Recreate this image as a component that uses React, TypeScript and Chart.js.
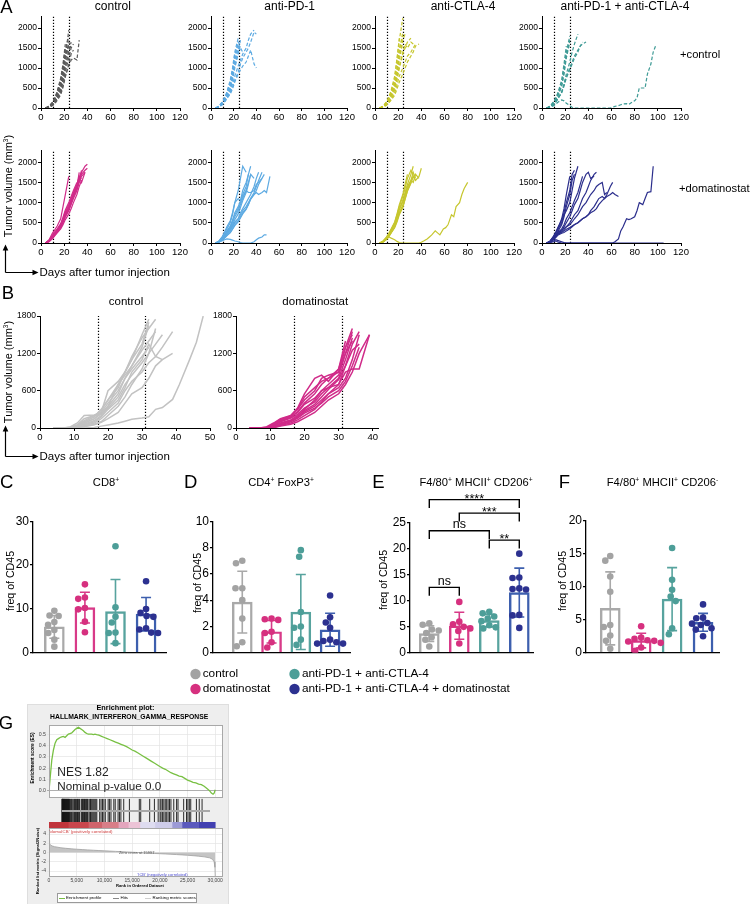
import React, { useEffect, useRef } from 'react';
import { Chart, registerables } from 'chart.js';

Chart.register(...registerables);

const FONT = '"Liberation Sans", Arial, Helvetica, sans-serif';
Chart.defaults.font.family = FONT;
Chart.defaults.color = '#000';

// ================= DATA =================
// ---- Panel A: tumour volume (mm3) per mouse on measurement days ----
const A_DAYS = [4, 7, 10, 12, 14, 17, 19, 21, 24, 26, 28, 31, 33, 35, 38, 40, 42, 45, 47, 49, 52, 54, 56, 59, 61, 63, 66, 68, 70, 73, 75, 77, 80, 82, 84, 87, 89, 91, 94, 96, 98, 101, 103, 105];
const A_TREAT = [10.5, 24.5];

const A_CTRL = [
  [0, 40, 120, 220, 330, 600, 900, 1300, 1950],
  [0, 30, 100, 180, 300, 520, 800, 1150, 1600],
  [0, 50, 140, 250, 400, 700, 1050, 1500],
  [0, 20, 90, 160, 260, 450, 700, 1000, 1400, 1650],
  [0, 35, 110, 200, 350, 620, 950, 1350, 1550],
  [0, 25, 80, 150, 250, 420, 650, 900, 1250, 1500, 1600],
  [0, 45, 130, 240, 380, 650, 1000, 1450, 1800],
  [0, 30, 95, 170, 280, 480, 720, 1050, 1450, 1580],
  [0, 20, 70, 130, 220, 380, 560, 800, 1050, 1200, 1250, 1200, 1700],
  [0, 40, 150, 260, 420, 750, 1100, 1600],
  [0, 30, 120, 210, 340, 580, 880, 1250, 1650, 1500],
  [0, 15, 60, 110, 190, 330, 520, 780, 1100, 1350, 1450],
];
const A_PD1 = [
  [0, 50, 160, 260, 400, 700, 1000, 1400, 1750],
  [0, 30, 120, 220, 350, 600, 900, 1300, 1650, 1550],
  [0, 40, 130, 200, 300, 500, 750, 1050, 1400, 1700],
  [0, 20, 90, 160, 250, 400, 600, 800, 1050, 1200, 1350, 1500, 1700, 1850, 1950],
  [0, 30, 100, 180, 260, 380, 520, 700, 900, 1100, 1250, 1400, 1500, 1650, 1900, 1850],
  [0, 20, 80, 150, 230, 350, 480, 650, 850, 950, 1050, 1150, 1300, 1450, 1100, 1000],
  [0, 40, 150, 250, 380, 650, 950, 1350, 1600],
  [0, 30, 110, 190, 300, 500, 780, 1100, 1500, 1450],
  [0, 25, 100, 170, 270, 450, 700, 1000, 1350, 1600],
  [0, 35, 130, 230, 350, 550, 850, 1200, 1550, 1500, 1400],
];
const A_CTLA4 = [
  [0, 40, 150, 250, 400, 750, 1200, 1700, 2250],
  [0, 30, 120, 200, 350, 600, 950, 1400, 1900],
  [0, 50, 160, 280, 450, 800, 1250, 1750],
  [0, 20, 90, 160, 260, 450, 700, 1000, 1350, 1500, 1650, 1750],
  [0, 30, 100, 180, 300, 500, 750, 1050, 1400, 1600, 1500, 1650, 1600],
  [0, 25, 80, 140, 220, 380, 580, 800, 1000, 1150, 1300, 1400, 1500, 1600],
  [0, 20, 70, 130, 200, 320, 480, 650, 850, 1000, 1150, 1300, 1400, 1550, 1600],
  [0, 40, 130, 230, 380, 650, 1000, 1500, 1800],
  [0, 30, 110, 190, 300, 520, 820, 1200, 1650],
  [0, 35, 120, 210, 330, 560, 870, 1300, 1700, 1850],
];
const A_COMBO = [
  [0, 40, 140, 240, 380, 650, 1000, 1400, 1800],
  [0, 30, 110, 200, 320, 550, 850, 1250, 1650],
  [0, 50, 160, 260, 400, 700, 1100, 1550],
  [0, 20, 80, 150, 240, 400, 600, 850, 1150, 1400, 1600, 1850],
  [0, 25, 90, 160, 250, 380, 550, 750, 950, 1100, 1250, 1400, 1550, 1650],
  [0, 30, 100, 170, 260, 400, 580, 780, 1000, 1150, 1300, 1450, 1550, 1600, 1650],
  [0, 20, 60, 100, 150, 200, 180, 120, 60, 20,
    0, 0, 0, 0, 0, 0, 0, 0, 0, 0, 0, 0, 0, 0,
    20, 40, 60, 80, 100, 110, 90, 130, 180, 250, 500, 500, 500, 850, 1100, 1400, 1550],
  [0, 35, 120, 210, 330, 560, 900, 1300, 1700],
];
const A_DOMA = [
  [0, 80, 250, 330, 420, 600, 900, 1200, 1650],
  [0, 50, 150, 230, 300, 420, 550, 700, 850, 1000, 1150, 1350, 1550, 1750, 1900, 1950],
  [0, 40, 130, 200, 270, 380, 500, 650, 800, 950, 1100, 1300, 1500, 1650, 1750],
  [0, 60, 170, 250, 330, 450, 600, 780, 950, 1100, 1250, 1450, 1600, 1800],
  [0, 30, 110, 180, 250, 350, 450, 580, 720, 850, 1000, 1200, 1400, 1550],
  [0, 50, 160, 240, 310, 430, 560, 720, 880, 1050, 1200, 1400, 1750],
  [0, 40, 140, 210, 280, 390, 520, 660, 820, 980, 1150, 1350, 1550, 1700, 1800, 1850],
  [0, 70, 200, 280, 350, 480, 640, 820, 1000, 1150, 1300, 1500],
  [0, 45, 150, 220, 290, 400, 540, 690, 840, 1000, 1180, 1380, 1580, 1600],
  [0, 55, 165, 240, 300, 420, 580, 750, 900, 1050, 1220, 1450, 1650, 1500, 1750],
];
const A_PD1_DOMA = [
  [0, 40, 150, 250, 350, 500, 700, 1000, 1100, 1050, 1200, 1400, 1700, 1900],
  [0, 30, 100, 180, 260, 400, 550, 750, 900, 1050, 1300, 1500, 1700],
  [0, 20, 80, 150, 220, 300, 400, 500, 600, 750, 850, 1000, 1100, 1200, 1400, 1600, 1750],
  [0, 30, 120, 200, 300, 420, 560, 700, 850, 1000, 1150, 1300, 1250, 1250, 1300, 1450, 1500, 1600, 1700],
  [0, 20, 70, 120, 180, 260, 350, 450, 550, 650, 750, 850, 950, 1100, 1250, 1400, 1550, 1750],
  [0, 25, 90, 160, 240, 330, 450, 580, 720, 880, 1050, 1250, 1450, 1700],
  [0, 40, 130, 200, 270, 350, 430, 520, 600, 700, 800, 900, 1000, 1100, 1200, 1250, 1200, 1250, 1300, 1250, 1650],
  [0, 30, 60, 80, 100, 90, 70, 50, 30, 10, 0, 0, 0, 0, 30, 80, 120, 150, 200, 200],
  [0, 35, 110, 190, 280, 380, 500, 650, 800, 950, 1100, 1300, 1500, 1700, 1600],
  [0, 50, 160, 270, 400, 550, 750, 1000, 1300, 1600, 1900, 1750],
  [0, 25, 80, 130, 190, 260, 340, 430, 520, 620, 720, 830, 950, 1080, 1200, 1300, 1450, 1600],
];
const A_CTLA4_DOMA = [
  [0, 40, 130, 220, 320, 480, 650, 850, 1050, 1250, 1450, 1700, 1900],
  [0, 30, 110, 180, 270, 400, 560, 750, 950, 1150, 1350, 1550, 1750, 1600],
  [0, 50, 150, 240, 350, 520, 720, 950, 1200, 1450, 1700],
  [0, 20, 90, 160, 250, 380, 520, 700, 880, 1080, 1280, 1480, 1650, 1700],
  [0, 35, 120, 200, 300, 450, 620, 820, 1020, 1200, 1400, 1550, 1500, 1700, 1600],
  [0, 25, 100, 170, 260, 400, 560, 740, 900, 1100, 1300, 1500, 1650, 1550, 1650, 1850],
  [0, 45, 140, 230, 330, 500, 700, 900, 1150, 1350, 1600, 1800, 1700],
  [0, 30, 90, 150, 120, 80, 40, 10,
    0, 0, 0, 0, 0, 0, 0,
    20, 50, 100, 150, 200, 300, 250, 200, 350, 380, 450, 700, 650, 900, 1000, 1200, 1350, 1500],
];
const A_COMBO_DOMA = [
  [0, 40, 150, 250, 380, 600, 850, 1200, 1650],
  [0, 30, 120, 200, 300, 450, 650, 900, 1200, 1550, 1700],
  [0, 50, 160, 260, 350, 500, 700, 800, 1000, 1300, 1600, 1900],
  [0, 20, 90, 160, 250, 350, 450, 600, 750, 900, 1050, 1250, 1450, 1650],
  [0, 30, 110, 180, 250, 300, 400, 500, 650, 800, 950, 1100, 1300, 1500, 1700, 1750, 1600, 1650],
  [0, 25, 100, 170, 230, 280, 330, 400, 500, 600, 700, 800, 950, 1100, 1250, 1400, 1550, 1700, 1750],
  [0, 35, 130, 210, 280, 320, 360, 400, 450, 520, 600, 700, 800, 900, 1000, 1100, 1200, 1300, 1400, 1450, 1500, 1200, 1250],
  [0, 20, 80, 140, 200, 240, 260, 300, 350, 400, 450, 500, 550, 600, 650, 700, 800, 900, 1000, 1100, 1150, 1100, 1200, 1400, 1500],
  [0, 30, 100, 160, 220, 260, 300, 340, 380, 420, 460, 500, 550, 600, 650, 700, 750, 800, 850, 950, 1050, 1100, 1150, 1200, 1250, 1200, 1150],
  [0, 20, 50, 80, 60, 30, 10,
    0, 0, 0, 0, 0, 0, 0, 0, 0, 0, 0, 0, 0, 0, 0, 0, 0, 0,
    30, 100, 300, 400, 600, 580, 600, 650, 800, 1000, 950, 1100, 1250, 1270, 1900],
  [0, 10, 30, 50, 20,
    0, 0, 0, 0, 0, 0, 0, 0, 0, 0, 0, 0, 0, 0, 0, 0, 0, 0, 0, 0,
    0, 0, 0, 0, 0, 0, 0, 0, 0, 0, 0, 0, 0, 0, 0, 0, 0, 0, 0],
  [0, 45, 170, 280, 400, 560, 750, 1000, 1300, 1700, 1800],
];

// ---- Panel B ----
const B_DAYS = [4, 7, 9, 11, 13, 16, 18, 20, 23, 25, 27, 30, 32, 34, 36, 39, 41, 44, 46, 48];
const B_TREAT = [17, 31];
const B_CTRL = [
  [0, 0, 20, 80, 200, 210, 250, 600, 750, 900, 1100, 1350, 1700],
  [0, 0, 10, 40, 100, 180, 300, 450, 700, 900, 1100, 1500, 1750],
  [0, 0, 0, 30, 80, 150, 250, 400, 600, 800, 1000, 1250, 1400, 1550],
  [0, 0, 10, 50, 150, 200, 220, 350, 550, 800, 950, 1150, 1300],
  [0, 0, 0, 20, 60, 120, 200, 320, 500, 700, 850, 1050, 1200, 1350, 1500],
  [0, 0, 0, 10, 40, 80, 150, 250, 400, 600, 750, 900, 1050, 1150, 1300, 1550],
  [0, 0, 5, 30, 80, 150, 230, 350, 700, 850, 1000, 1300, 1650],
  [0, 0, 0, 20, 50, 100, 180, 300, 450, 650, 900, 1100, 1350, 1150, 1100],
  [0, 0, 0, 10, 30, 60, 100, 200, 350, 500, 700, 950, 1200, 1600],
  [0, 0, 0, 5, 20, 50, 90, 150, 250, 400, 550, 650, 800, 1000, 1100, 1200],
  [0, 0, 0, 0, 0, 10, 30, 50, 80, 110, 140, 160, 180, 300, 330, 460, 700, 1100, 1380, 1800],
  [0, 0, 10, 50, 120, 200, 280, 450, 650, 900, 1150, 1450, 1600, 1750],
];
const B_DOMA = [
  [0, 0, 10, 60, 120, 180, 250, 380, 480, 600, 700, 850, 1200, 1550],
  [0, 0, 20, 80, 150, 200, 300, 450, 600, 800, 850, 900, 1300, 1500],
  [0, 0, 5, 40, 100, 160, 220, 320, 420, 550, 650, 800, 1100, 1450],
  [0, 0, 0, 30, 80, 130, 200, 280, 380, 500, 620, 780, 1000, 1350, 1550],
  [0, 0, 10, 50, 110, 170, 260, 400, 550, 700, 800, 950, 1300, 1600],
  [0, 0, 0, 20, 60, 110, 170, 260, 350, 450, 550, 700, 900, 950, 950, 1500],
  [0, 0, 10, 70, 140, 190, 300, 500, 650, 750, 800, 900, 1200, 1400],
  [0, 0, 0, 10, 40, 80, 130, 200, 300, 420, 550, 650, 800, 1100, 1500],
  [0, 0, 5, 30, 70, 120, 180, 300, 450, 600, 650, 700, 1000, 1250, 1350],
  [0, 0, 0, 15, 50, 100, 160, 240, 320, 400, 500, 600, 750, 1000, 1300],
  [0, 0, 10, 60, 130, 200, 320, 550, 800, 850, 750, 950, 1400],
  [0, 0, 0, 5, 30, 60, 100, 160, 250, 350, 450, 550, 700, 900, 1200, 1500],
];

// ---- Panels C-F: freq of CD45 (control, domatinostat, aPD1+aCTLA4, aPD1+aCTLA4+doma) ----
const C_CTRL = [9.6, 8.5, 8.4, 7.0, 6.4, 5.2, 4.5, 3.0, 1.4];
const C_DOMA = [15.6, 12.6, 12.3, 10.2, 9.9, 7.1, 4.7];
const C_COMBO = [24.3, 10.4, 8.2, 6.9, 4.6, 4.5, 2.2];
const C_TRIPLE = [16.3, 10.0, 9.1, 8.4, 8.2, 5.6, 5.3, 4.6, 4.5];
const C_MEAN = [5.9, 10.3, 9.4, 8.8];
const C_SD = [2.6, 3.5, 7.3, 3.8];

const D_CTRL = [7.0, 6.8, 4.9, 4.9, 4.0, 2.6, 0.8, 0.5];
const D_DOMA = [2.6, 2.55, 2.5, 1.6, 1.5, 0.8, 0.4];
const D_COMBO = [7.8, 7.3, 3.1, 2.0, 1.9, 1.0, 0.6];
const D_TRIPLE = [4.35, 2.7, 2.3, 1.9, 1.0, 0.9, 0.8, 0.7, 0.7];
const D_MEAN = [3.85, 1.6, 3.1, 1.75];
const D_SD = [2.35, 0.85, 2.85, 1.25];

const E_CTRL = [5.7, 5.4, 4.5, 4.3, 3.8, 3.0, 2.5, 1.2];
const E_DOMA = [9.8, 6.0, 5.5, 5.0, 4.7, 4.2, 1.8];
const E_COMBO = [7.9, 7.6, 7.0, 6.6, 6.1, 5.3, 4.9, 4.7];
const E_TRIPLE = [19.1, 14.5, 14.4, 12.4, 12.3, 12.2, 7.3, 7.2, 4.8];
const E_MEAN = [3.7, 5.2, 6.2, 11.6];
const E_SD = [1.5, 2.6, 1.2, 4.7];
const E_BR_FROM = [0, 0, 2, 1, 0];
const E_BR_TO = [1, 2, 3, 3, 3];
const E_BR_Y = [12.6, 23.5, 21.7, 26.9, 29.5];
const E_BR_LABEL = ['ns', 'ns', '**', '***', '****'];

const F_CTRL = [14.6, 13.9, 11.5, 9.2, 4.2, 3.9, 2.6, 1.8, 0.6];
const F_DOMA = [4.0, 2.3, 2.1, 1.9, 1.8, 1.7, 1.5, 0.8, 0.3];
const F_COMBO = [15.8, 11.0, 9.5, 8.5, 7.8, 3.7, 2.8];
const F_TRIPLE = [7.3, 5.3, 5.2, 4.5, 4.4, 4.2, 3.7, 3.5, 2.5];
const F_MEAN = [6.7, 1.85, 8.1, 4.6];
const F_SD = [5.5, 1.1, 4.75, 1.35];

const GROUP_NAMES = ['control', 'domatinostat', 'anti-PD-1 + anti-CTLA-4', 'anti-PD-1 + anti-CTLA-4 + domatinostat'];

// ---- Panel G: GSEA ----
const G_XMAX = 31400;
const ES_CURVE = [
  [0, 0.0], [200, 0.11], [500, 0.27], [800, 0.36], [1100, 0.42], [1400, 0.45], [1700, 0.46],
  [2000, 0.47], [2300, 0.475], [2600, 0.48], [2900, 0.47], [3200, 0.485], [3500, 0.5], [3800, 0.505],
  [4100, 0.51], [4400, 0.525], [4700, 0.54], [5000, 0.55], [5300, 0.56], [5600, 0.55], [5900, 0.54],
  [6200, 0.53], [6500, 0.515], [6800, 0.505], [7100, 0.5], [7400, 0.5], [7700, 0.5], [8000, 0.495],
  [8300, 0.5], [8600, 0.495], [9000, 0.49], [9500, 0.48], [10000, 0.47], [10500, 0.46], [11000, 0.45],
  [11500, 0.44], [12000, 0.43], [12500, 0.42], [13000, 0.41], [13500, 0.4], [14000, 0.39], [14500, 0.375],
  [15000, 0.36], [15500, 0.35], [16000, 0.335], [16500, 0.32], [17000, 0.305], [17500, 0.29], [18000, 0.275],
  [18500, 0.26], [19000, 0.245], [19500, 0.23], [20000, 0.215], [20500, 0.2], [21000, 0.19], [21500, 0.175],
  [22000, 0.16], [22500, 0.15], [23000, 0.14], [23500, 0.13], [24000, 0.125], [24500, 0.11], [25000, 0.095],
  [25500, 0.085], [26000, 0.075], [26500, 0.07], [27000, 0.06], [27500, 0.055], [28000, 0.04], [28500, 0.02],
  [29000, 0.0], [29300, -0.02], [29600, -0.03], [29800, -0.02], [30000, 0.01],
];
const HIT_RANKS = [20, 60, 110, 150, 200, 260, 310, 380, 430, 500, 560, 640, 700, 780, 850, 930, 1000, 1080, 1150, 1230, 1300, 1380, 1460, 1550, 1640, 1850, 2000, 2150, 2350, 2550, 2700, 2850, 3000, 3150, 3300, 3450, 3600, 3750, 4100, 4250, 4400, 4500, 4650, 4800, 4950, 5100, 5250, 5400, 5550, 5900, 6050, 6200, 6400, 6600, 6800, 7000, 7200, 7400, 8000, 8300, 8600, 8900, 9200, 9800, 10100, 10400, 11000, 11300, 11900, 12200, 12500, 13100, 14300, 16400, 16700, 18600, 19600, 20400, 20800, 21000, 21300, 21600, 21900, 22200, 22500, 22800, 23100, 23700, 24300, 24600, 25800, 26400, 26700, 27000, 27300, 28500, 29100, 29700];
const HEAT_START = [0, 3500, 7100, 9500, 12500, 14300, 16400, 19100, 22200, 24000, 27000];
const HEAT_END = [3500, 7100, 9500, 12500, 14300, 16400, 19100, 22200, 24000, 27000, 30000];
const METRIC_CURVE = [
  [0, 2.6], [100, 1.9], [300, 1.6], [600, 1.42], [1000, 1.27], [2000, 1.06], [3000, 0.92], [4000, 0.81],
  [5000, 0.72], [6000, 0.64], [7000, 0.57], [8000, 0.5], [9000, 0.43], [10000, 0.37], [11000, 0.31],
  [12000, 0.25], [13000, 0.19], [14000, 0.13], [15000, 0.07], [15997, 0], [17000, -0.07], [18000, -0.13],
  [19000, -0.19], [20000, -0.25], [21000, -0.31], [22000, -0.37], [23000, -0.44], [24000, -0.51],
  [25000, -0.59], [26000, -0.68], [27000, -0.79], [28000, -0.93], [29000, -1.15], [29500, -1.45],
  [29800, -2.0], [29950, -3.2], [30000, -5.2],
];

// ================= STYLES =================
const GROUP_POINT = ['#a3a3a3', '#d6307f', '#4d9e98', '#2c3190'];
const GROUP_BAR = ['#a9a9a9', '#d83a88', '#57a39e', '#3d5fae'];
const HEAT_COLORS = ['#c0343b', '#c9464d', '#d0646c', '#d87e88', '#e3a5bd', '#ecc3d6', '#dedcf0', '#cecce9', '#9c9ad6', '#5b59bd', '#4240b1'];
const DASH = [3.5, 2];

// ================= HELPERS =================
type Box = { x0: number; x1: number; y0: number; y1: number; yw: number; xh: number; pt: number; pr: number; pb: number };

function Plot({ box, make }: { box: Box; make: (b: Box, pad: any) => any }) {
  const ref = useRef<HTMLCanvasElement>(null);
  const left = box.x0 - box.yw;
  const top = box.y0 - box.pt;
  const width = box.yw + (box.x1 - box.x0) + box.pr;
  const height = box.pt + (box.y1 - box.y0) + box.xh + box.pb;
  useEffect(() => {
    const chart = new Chart(ref.current as HTMLCanvasElement, make(box, { left: 0, top: box.pt, right: box.pr, bottom: box.pb }));
    return () => chart.destroy();
  }, []);
  return <canvas ref={ref} width={width} height={height} style={{ position: 'absolute', left, top, width, height, display: 'block' }} />;
}

function opts(pad: any, scales: any, extra: any = {}) {
  return {
    responsive: false, animation: false, events: [], devicePixelRatio: 1,
    layout: { padding: pad },
    plugins: { legend: { display: false }, tooltip: { enabled: false } },
    scales, ...extra,
  };
}

// explicit tick positions: every multiple of `step` inside [min, max]
const stepTicks = (min: number, max: number, step: number) => (s: any) => {
  const t: any[] = [];
  for (let k = Math.ceil(min / step - 1e-9); k * step <= max + 1e-9; k++) t.push({ value: Math.round(k * step * 1e6) / 1e6 });
  s.ticks = t;
};

function gpAxis(min: number, max: number, step: number, size: number, fit: (s: any) => void, tl = 3, lw = 1, pad = 1) {
  return {
    type: 'linear', min, max, offset: false, afterFit: fit,
    afterBuildTicks: stepTicks(min, max, step),
    border: { display: true, color: '#000', width: lw },
    grid: { display: true, drawOnChartArea: false, drawTicks: true, tickLength: tl, color: '#000', lineWidth: lw },
    ticks: { autoSkip: false, maxRotation: 0, minRotation: 0, padding: pad, color: '#000', font: { size }, callback: (v: any) => String(v) },
  };
}

const vlineMaker = (vals: number[]) => ({
  id: 'vlines',
  beforeDatasetsDraw(chart: any) {
    const { ctx, chartArea, scales } = chart;
    ctx.save();
    ctx.strokeStyle = '#000';
    ctx.lineWidth = 1.2;
    ctx.setLineDash([1.2, 1.8]);
    for (const v of vals) {
      const x = Math.round(scales.x.getPixelForValue(v)) + 0.5;
      ctx.beginPath(); ctx.moveTo(x, chartArea.bottom); ctx.lineTo(x, chartArea.top); ctx.stroke();
    }
    ctx.restore();
  },
});

const errMaker = (means: number[], sds: number[]) => ({
  id: 'errbars',
  beforeDatasetsDraw(chart: any) {
    const { ctx, scales: { x, y } } = chart;
    ctx.save();
    ctx.lineWidth = 1.6;
    means.forEach((m, i) => {
      const cx = x.getPixelForValue(i);
      const t = y.getPixelForValue(m + sds[i]);
      const b = y.getPixelForValue(m - sds[i]);
      ctx.strokeStyle = GROUP_BAR[i];
      ctx.beginPath();
      ctx.moveTo(cx, t); ctx.lineTo(cx, b);
      ctx.moveTo(cx - 5, t); ctx.lineTo(cx + 5, t);
      ctx.moveTo(cx - 5, b); ctx.lineTo(cx + 5, b);
      ctx.stroke();
    });
    ctx.restore();
  },
});

const bracketMaker = (from: number[], to: number[], ys: number[], labels: string[]) => ({
  id: 'brackets',
  afterDatasetsDraw(chart: any) {
    const { ctx, scales: { x, y } } = chart;
    ctx.save();
    ctx.strokeStyle = '#000'; ctx.fillStyle = '#000'; ctx.lineWidth = 1.4;
    ctx.font = `12.5px ${FONT}`; ctx.textAlign = 'center'; ctx.textBaseline = 'alphabetic';
    for (let k = 0; k < from.length; k++) {
      const xa = x.getPixelForValue(from[k]);
      const xb = x.getPixelForValue(to[k]);
      const yt = y.getPixelForValue(ys[k]);
      const yl = y.getPixelForValue(ys[k] - 1.6);
      ctx.beginPath(); ctx.moveTo(xa, yl); ctx.lineTo(xa, yt); ctx.lineTo(xb, yt); ctx.lineTo(xb, yl); ctx.stroke();
      const stars = labels[k].startsWith('*');
      ctx.fillText(labels[k], (xa + xb) / 2, stars ? yt + 3 : yt - 2.5);
    }
    ctx.restore();
  },
});

const framePlugin = {
  id: 'gframe',
  beforeDraw(chart: any) {
    const { ctx, chartArea: a } = chart;
    ctx.save(); ctx.fillStyle = '#fff'; ctx.fillRect(a.left, a.top, a.right - a.left, a.bottom - a.top); ctx.restore();
  },
  afterDraw(chart: any) {
    const { ctx, chartArea: a } = chart;
    ctx.save(); ctx.strokeStyle = '#a8a8a8'; ctx.lineWidth = 1;
    ctx.strokeRect(Math.round(a.left) + 0.5, Math.round(a.top) + 0.5, Math.round(a.right - a.left) - 1, Math.round(a.bottom - a.top) - 1);
    ctx.restore();
  },
};

function beeswarm(vals: number[], pxY: number, r: number): number[] {
  const order = vals.map((_, i) => i).sort((a, b) => vals[b] - vals[a]);
  const placed: { x: number; y: number }[] = [];
  const out = new Array(vals.length).fill(0);
  const D = 2 * r;
  for (const i of order) {
    const y = vals[i] * pxY;
    const cands = [0];
    for (const p of placed) {
      const dy = Math.abs(p.y - y);
      if (dy < D) { const dx = Math.sqrt(D * D - dy * dy); cands.push(p.x + dx, p.x - dx); }
    }
    cands.sort((a, b) => Math.abs(a) - Math.abs(b) || a - b);
    const ok = cands.find((c) => placed.every((p) => (p.x - c) ** 2 + (p.y - y) ** 2 >= D * D - 0.01));
    const x = ok === undefined ? 0 : ok;
    placed.push({ x, y });
    out[i] = x;
  }
  return out;
}

const tumorMaker = (days: number[], curves: number[][], color: string, dash: number[], xmax: number, xstep: number, ymax: number, ystep: number, vlines: number[], lw: number) =>
  (b: Box, pad: any) => ({
    type: 'line',
    data: {
      datasets: curves.map((c) => ({
        data: c.map((v, i) => ({ x: days[i], y: v })),
        borderColor: color, borderWidth: lw, borderDash: dash, pointRadius: 0, tension: 0, fill: false,
      })),
    },
    options: opts(pad, {
      x: gpAxis(0, xmax, xstep, 9.5, (s: any) => { s.height = b.xh; }),
      y: gpAxis(0, ymax, ystep, 8.5, (s: any) => { s.width = b.yw; }),
    }),
    plugins: [vlineMaker(vlines)],
  });

const barMaker = (groups: number[][], means: number[], sds: number[], ymax: number, ystep: number, xmin: number, xmax: number, extra: any[] = []) =>
  (b: Box, pad: any) => {
    const pxX = (b.x1 - b.x0) / (xmax - xmin);
    const pxY = (b.y1 - b.y0) / ymax;
    const pts = groups.map((vals, g) => {
      const off = beeswarm(vals, pxY, 3.4);
      return { type: 'scatter', data: vals.map((v, i) => ({ x: g + off[i] / pxX, y: v })), backgroundColor: GROUP_POINT[g], borderWidth: 0, pointRadius: 3.3, order: 0 };
    });
    const xAxis: any = gpAxis(xmin, xmax, 1, 10, (s: any) => { s.height = b.xh; }, 0, 1.3);
    xAxis.ticks = { display: false };
    xAxis.grid = { display: false };
    return {
      type: 'bar',
      data: {
        datasets: [
          ...pts,
          { type: 'bar', data: means.map((m, g) => ({ x: g, y: m })), backgroundColor: 'rgba(255,255,255,0)', borderColor: GROUP_BAR, borderWidth: 1.8, barThickness: 20, order: 1 },
        ],
      },
      options: opts(pad, {
        x: xAxis,
        y: gpAxis(0, ymax, ystep, 12, (s: any) => { s.width = b.yw; }, 3, 1.3, 1),
      }),
      plugins: [errMaker(means, sds), ...extra],
    };
  };

const lightGrid = { color: '#e4e4e4', lineWidth: 0.7 };

const esMaker = (b: Box, pad: any) => ({
  type: 'line',
  data: { datasets: [{ data: ES_CURVE.map((p) => ({ x: p[0], y: p[1] })), borderColor: '#78c043', borderWidth: 1.3, pointRadius: 0, tension: 0 }] },
  options: opts(pad, {
    x: { type: 'linear', min: 0, max: G_XMAX, afterFit: (s: any) => { s.height = b.xh; }, afterBuildTicks: stepTicks(0, 30000, 5000), border: { display: false }, grid: { ...lightGrid, drawTicks: false }, ticks: { display: false } },
    y: {
      type: 'linear', min: -0.062, max: 0.579, afterFit: (s: any) => { s.width = b.yw; }, afterBuildTicks: stepTicks(0, 0.5, 0.1), border: { display: false },
      grid: { color: (c: any) => (c.tick && Math.abs(c.tick.value) < 1e-9 ? '#8c8c8c' : '#e4e4e4'), lineWidth: 0.7, tickLength: 2, drawTicks: true },
      ticks: { padding: 1, font: { size: 5.2 }, color: '#444', callback: (v: any) => Number(v).toFixed(1) },
    },
  }),
  plugins: [framePlugin],
});

const hitsMaker = (b: Box, pad: any) => ({
  type: 'scatter',
  data: {
    datasets: [{
      data: HIT_RANKS.map((r) => ({ x: r, y: 0 })),
      pointStyle: 'line', pointRotation: 90, pointRadius: 12,
      pointBorderColor: '#151515', pointBackgroundColor: '#151515', pointBorderWidth: 0.9,
      borderColor: '#151515', backgroundColor: '#151515', borderWidth: 0.9, clip: false,
    }],
  },
  options: opts(pad, {
    x: { type: 'linear', display: false, min: 0, max: G_XMAX },
    y: { type: 'linear', display: false, min: -1, max: 1 },
  }),
  plugins: [framePlugin],
});

const heatMaker = (b: Box, pad: any) => ({
  type: 'bar',
  data: {
    labels: ['rank'],
    datasets: HEAT_START.map((s, i) => ({ data: [[s, HEAT_END[i]]], backgroundColor: HEAT_COLORS[i], borderWidth: 0, grouped: false, barPercentage: 1, categoryPercentage: 1 })),
  },
  options: opts(pad, {
    x: { type: 'linear', display: false, min: 0, max: G_XMAX },
    y: { type: 'category', display: false },
  }, { indexAxis: 'y' }),
});

const fmtK = (v: number) => (v === 0 ? '0' : `${Math.round(v / 1000)},000`);

const rankMaker = (b: Box, pad: any) => ({
  type: 'line',
  data: { datasets: [{ data: METRIC_CURVE.map((p) => ({ x: p[0], y: p[1] })), borderColor: '#a0a0a0', backgroundColor: '#c4c4c4', fill: 'origin', borderWidth: 0.8, pointRadius: 0, tension: 0 }] },
  options: opts(pad, {
    x: {
      type: 'linear', min: 0, max: G_XMAX, afterFit: (s: any) => { s.height = b.xh; }, afterBuildTicks: stepTicks(0, 30000, 5000), border: { display: false },
      grid: { ...lightGrid, tickLength: 1, drawTicks: true },
      ticks: { autoSkip: false, maxRotation: 0, padding: 0, font: { size: 5 }, color: '#444', callback: (v: any) => fmtK(Number(v)) },
    },
    y: {
      type: 'linear', min: -5.3, max: 5.32, afterFit: (s: any) => { s.width = b.yw; }, afterBuildTicks: stepTicks(-4, 4, 2), border: { display: false },
      grid: { ...lightGrid, tickLength: 2, drawTicks: true },
      ticks: { padding: 1, font: { size: 5 }, color: '#444', callback: (v: any) => String(v) },
    },
  }),
  plugins: [framePlugin],
});

// ================= LAYOUT =================
const A_COLS = [[41, 180], [211, 347], [375, 514], [542, 681]];
const A_ROW1 = { y0: 16, y1: 108 };
const A_ROW2 = { y0: 150, y1: 243 };
const A_ROW1_SETS = [
  { d: A_CTRL, c: '#5b5b5b' }, { d: A_PD1, c: '#5daae2' }, { d: A_CTLA4, c: '#c6c62e' }, { d: A_COMBO, c: '#3f9b96' },
];
const A_ROW2_SETS = [
  { d: A_DOMA, c: '#d02b89' }, { d: A_PD1_DOMA, c: '#5daae2' }, { d: A_CTLA4_DOMA, c: '#c6c62e' }, { d: A_COMBO_DOMA, c: '#2b2e8c' },
];

function T({ x, y, s, children, a = 'c', rot = 0, b = false, c = '#000' }: any) {
  const tx = a === 'c' ? '-50%' : a === 'r' ? '-100%' : '0';
  return (
    <div style={{ position: 'absolute', left: x, top: y, transform: `translate(${tx}, -50%)${rot ? ` rotate(${rot}deg)` : ''}`, fontSize: s, lineHeight: 1, whiteSpace: 'nowrap', fontWeight: b ? 700 : 400, color: c }}>
      {children}
    </div>
  );
}

const Sup = ({ children }: any) => <sup style={{ fontSize: '0.6em', verticalAlign: '0.6em', lineHeight: 0 }}>{children}</sup>;

export default function App() {
  const aBox = (col: number[], row: { y0: number; y1: number }): Box => ({ x0: col[0], x1: col[1], y0: row.y0, y1: row.y1, yw: 26, xh: 14, pt: 6, pr: 10, pb: 0 });
  const barBox = (x0: number, x1: number, y0: number, pt: number): Box => ({ x0, x1, y0, y1: 653, yw: 30, xh: 2, pt, pr: 4, pb: 6 });

  return (
    <div style={{ position: 'absolute', left: 0, top: 0, width: 752, height: 904, overflow: 'hidden', background: '#fff', fontFamily: FONT, color: '#000' }}>
      {/* G background box */}
      <div style={{ position: 'absolute', left: 27, top: 704, width: 200, height: 210, background: '#eeeeee', border: '1px solid #dedede' }} />

      {/* Panel A */}
      {A_ROW1_SETS.map((s, i) => (
        <Plot key={'a1' + i} box={aBox(A_COLS[i], A_ROW1)} make={tumorMaker(A_DAYS, s.d, s.c, DASH, 120, 20, 2300, 500, A_TREAT, 1.2)} />
      ))}
      {A_ROW2_SETS.map((s, i) => (
        <Plot key={'a2' + i} box={aBox(A_COLS[i], A_ROW2)} make={tumorMaker(A_DAYS, s.d, s.c, [], 120, 20, 2300, 500, A_TREAT, 1.2)} />
      ))}

      {/* Panel B */}
      <Plot box={{ x0: 40, x1: 210, y0: 316, y1: 428, yw: 26, xh: 14, pt: 6, pr: 10, pb: 0 }} make={tumorMaker(B_DAYS, B_CTRL, '#c2c2c2', [], 50, 10, 1800, 600, B_TREAT, 1.5)} />
      <Plot box={{ x0: 236, x1: 378, y0: 316, y1: 428, yw: 26, xh: 14, pt: 6, pr: 10, pb: 0 }} make={tumorMaker(B_DAYS, B_DOMA, '#d02b89', [], 41.5, 10, 1800, 600, B_TREAT, 1.5)} />

      {/* Panels C-F */}
      <Plot box={barBox(33, 166, 521, 8)} make={barMaker([C_CTRL, C_DOMA, C_COMBO, C_TRIPLE], C_MEAN, C_SD, 30, 10, -0.698, 3.652)} />
      <Plot box={barBox(213, 350, 521, 8)} make={barMaker([D_CTRL, D_DOMA, D_COMBO, D_TRIPLE], D_MEAN, D_SD, 10, 2, -1.0, 3.68)} />
      <Plot box={barBox(410, 533, 523, 40)} make={barMaker([E_CTRL, E_DOMA, E_COMBO, E_TRIPLE], E_MEAN, E_SD, 25, 5, -0.643, 3.457, [bracketMaker(E_BR_FROM, E_BR_TO, E_BR_Y, E_BR_LABEL)])} />
      <Plot box={barBox(586, 719, 520, 8)} make={barMaker([F_CTRL, F_DOMA, F_COMBO, F_TRIPLE], F_MEAN, F_SD, 20, 5, -0.784, 3.516)} />

      {/* Panel G charts */}
      <Plot box={{ x0: 49, x1: 223, y0: 725, y1: 798, yw: 22, xh: 0, pt: 4, pr: 3, pb: 4 }} make={esMaker} />
      <Plot box={{ x0: 49, x1: 223, y0: 798, y1: 822, yw: 0, xh: 0, pt: 0, pr: 0, pb: 0 }} make={hitsMaker} />
      <Plot box={{ x0: 49, x1: 223, y0: 822, y1: 828, yw: 0, xh: 0, pt: 0, pr: 0, pb: 0 }} make={heatMaker} />
      <Plot box={{ x0: 49, x1: 223, y0: 828, y1: 877, yw: 22, xh: 7, pt: 4, pr: 8, pb: 0 }} make={rankMaker} />

      {/* Arrows and legend markers */}
      <svg width={752} height={904} style={{ position: 'absolute', left: 0, top: 0 }}>
        <g stroke="#000" strokeWidth={1.2} fill="none">
          <path d="M5.5 272.5 V249 M5.5 272.5 H34" />
          <path d="M5.5 456.5 V430 M5.5 456.5 H34" />
        </g>
        <g fill="#000">
          <polygon points="5.5,244.5 2.7,250.5 8.3,250.5" />
          <polygon points="38.5,272.5 32.5,269.7 32.5,275.3" />
          <polygon points="5.5,425.5 2.7,431.5 8.3,431.5" />
          <polygon points="38.5,456.5 32.5,453.7 32.5,459.3" />
        </g>
        <circle cx={195.5} cy={674} r={5.2} fill={GROUP_POINT[0]} />
        <circle cx={195.5} cy={689} r={5.2} fill={GROUP_POINT[1]} />
        <circle cx={294.5} cy={674} r={5.2} fill={GROUP_POINT[2]} />
        <circle cx={294.5} cy={689} r={5.2} fill={GROUP_POINT[3]} />
      </svg>

      {/* Panel letters */}
      <T x={6.5} y={7} s={18.5}>A</T>
      <T x={8} y={292.5} s={18.5}>B</T>
      <T x={6.7} y={481.7} s={18.5}>C</T>
      <T x={190.8} y={481.7} s={18.5}>D</T>
      <T x={378.3} y={481.7} s={18.5}>E</T>
      <T x={564.3} y={481.7} s={18.5}>F</T>
      <T x={6} y={723.3} s={18.5}>G</T>

      {/* Panel A text */}
      <T x={112.8} y={5.5} s={12}>control</T>
      <T x={289.7} y={5.5} s={12}>anti-PD-1</T>
      <T x={463} y={5.5} s={12}>anti-CTLA-4</T>
      <T x={625} y={5.5} s={12}>anti-PD-1 + anti-CTLA-4</T>
      <T x={680} y={55} s={11.2} a="l">+control</T>
      <T x={679} y={188.5} s={11.2} a="l">+domatinostat</T>
      <T x={7.5} y={186} s={11} rot={-90}>Tumor volume (mm<Sup>3</Sup>)</T>
      <T x={39.5} y={272.5} s={11.5} a="l">Days after tumor injection</T>

      {/* Panel B text */}
      <T x={126} y={301.7} s={11.5}>control</T>
      <T x={315.3} y={301.7} s={11.5}>domatinostat</T>
      <T x={7.5} y={371.7} s={11} rot={-90}>Tumor volume (mm<Sup>3</Sup>)</T>
      <T x={39.5} y={456.7} s={11.5} a="l">Days after tumor injection</T>

      {/* Panels C-F text */}
      <T x={106} y={483.3} s={11.2}>CD8<Sup>+</Sup></T>
      <T x={281} y={483.3} s={11.2}>CD4<Sup>+</Sup> FoxP3<Sup>+</Sup></T>
      <T x={476} y={483.3} s={11.2}>F4/80<Sup>+</Sup> MHCII<Sup>+</Sup> CD206<Sup>+</Sup></T>
      <T x={662.5} y={483.3} s={11.2}>F4/80<Sup>+</Sup> MHCII<Sup>+</Sup> CD206<Sup>-</Sup></T>
      <T x={10} y={581} s={10.6} rot={-90}>freq of CD45</T>
      <T x={197.2} y={583} s={10.6} rot={-90}>freq of CD45</T>
      <T x={383.3} y={580} s={10.6} rot={-90}>freq of CD45</T>
      <T x={562} y={581} s={10.6} rot={-90}>freq of CD45</T>

      {/* Legend */}
      <T x={202.7} y={674} s={11.8} a="l">{GROUP_NAMES[0]}</T>
      <T x={202.7} y={689} s={11.8} a="l">{GROUP_NAMES[1]}</T>
      <T x={302} y={674} s={11.8} a="l">{GROUP_NAMES[2]}</T>
      <T x={302} y={689} s={11.8} a="l">{GROUP_NAMES[3]}</T>

      {/* Panel G text */}
      <T x={125.5} y={708.3} s={7.3} b>Enrichment plot:</T>
      <T x={129.2} y={717.3} s={6.8} b>HALLMARK_INTERFERON_GAMMA_RESPONSE</T>
      <T x={33} y={758} s={4.75} b rot={-90}>Enrichment score (ES)</T>
      <T x={57.3} y={772} s={12} a="l" c="#222">NES 1.82</T>
      <T x={57.3} y={786} s={11.7} a="l" c="#222">Nominal p-value 0.0</T>
      <T x={49.5} y={831.5} s={4.4} a="l" c="#d03a3a">'domaICB' (positively correlated)</T>
      <T x={136.7} y={852.7} s={4} c="#555">Zero cross at 15997</T>
      <T x={162.5} y={874.5} s={4.1} c="#4b4bd0">'ICB' (negatively correlated)</T>
      <T x={37.5} y={861} s={4.2} b rot={-90}>Ranked list metric (Signal2Noise)</T>
      <T x={140} y={885.5} s={4.1} b>Rank in Ordered Dataset</T>

      {/* G legend */}
      <div style={{ position: 'absolute', left: 57, top: 893, width: 140, height: 10, background: '#fff', border: '1px solid #9a9a9a', boxSizing: 'border-box' }} />
      <div style={{ position: 'absolute', left: 58.5, top: 897.5, width: 6.5, height: 1.5, background: '#78c043' }} />
      <div style={{ position: 'absolute', left: 112.5, top: 897.5, width: 6.5, height: 1.2, background: '#888' }} />
      <div style={{ position: 'absolute', left: 144.5, top: 897.5, width: 6.5, height: 1.2, background: '#cfcfcf' }} />
      <T x={66} y={898.3} s={4.4} a="l">Enrichment profile</T>
      <T x={120.5} y={898.3} s={4.4} a="l">Hits</T>
      <T x={152.5} y={898.3} s={4.4} a="l">Ranking metric scores</T>
    </div>
  );
}
